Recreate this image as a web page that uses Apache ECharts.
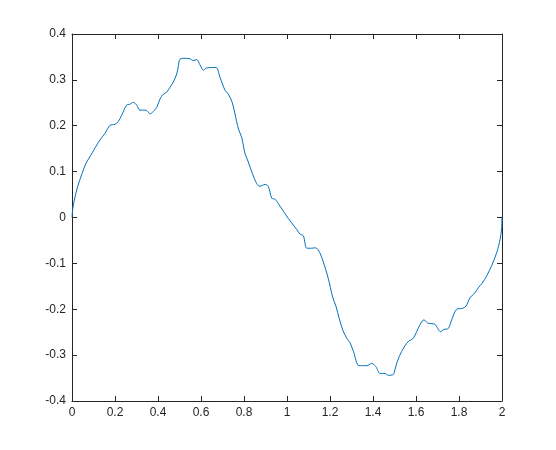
<!DOCTYPE html>
<html>
<head>
<meta charset="utf-8">
<script src="https://cdn.jsdelivr.net/npm/echarts@6/dist/echarts.min.js"></script>
<style>
  html, body { margin: 0; padding: 0; background: #fff; }
  #chart { width: 556px; height: 450px; }
</style>
</head>
<body>
<div id="chart"></div>
<script>
// curve points
const xs = [0, 0.004, 0.011, 0.026, 0.047, 0.065, 0.088, 0.104, 0.115, 0.13, 0.153, 0.177, 0.2, 0.215, 0.231, 0.254, 0.27, 0.285, 0.301, 0.316, 0.34, 0.35, 0.363, 0.378, 0.394, 0.409, 0.425, 0.44, 0.456, 0.471, 0.487, 0.495, 0.502, 0.526, 0.549, 0.564, 0.58, 0.595, 0.611, 0.626, 0.67, 0.688, 0.712, 0.727, 0.745, 0.758, 0.774, 0.789, 0.805, 0.82, 0.839, 0.859, 0.874, 0.898, 0.913, 0.929, 0.944, 0.967, 1.006, 1.045, 1.06, 1.076, 1.092, 1.115, 1.13, 1.146, 1.166, 1.192, 1.212, 1.228, 1.243, 1.259, 1.278, 1.293, 1.309, 1.335, 1.371, 1.394, 1.413, 1.433, 1.456, 1.471, 1.495, 1.502, 1.513, 1.533, 1.557, 1.572, 1.588, 1.603, 1.616, 1.637, 1.654, 1.688, 1.714, 1.73, 1.75, 1.766, 1.789, 1.817, 1.833, 1.851, 1.874, 1.89, 1.908, 1.929, 1.952, 1.975, 1.991, 1.998, 2];
const ys = [0, 0.021, 0.038, 0.067, 0.096, 0.118, 0.136, 0.149, 0.158, 0.169, 0.183, 0.201, 0.203, 0.209, 0.223, 0.245, 0.247, 0.251, 0.245, 0.234, 0.234, 0.232, 0.226, 0.231, 0.24, 0.258, 0.269, 0.273, 0.284, 0.295, 0.313, 0.331, 0.345, 0.347, 0.346, 0.342, 0.344, 0.333, 0.321, 0.326, 0.327, 0.306, 0.277, 0.269, 0.251, 0.226, 0.193, 0.175, 0.139, 0.121, 0.096, 0.074, 0.068, 0.072, 0.068, 0.042, 0.04, 0.025, -0.002, -0.026, -0.036, -0.04, -0.067, -0.067, -0.066, -0.071, -0.093, -0.133, -0.173, -0.194, -0.22, -0.245, -0.263, -0.273, -0.292, -0.323, -0.323, -0.318, -0.325, -0.34, -0.34, -0.344, -0.342, -0.332, -0.314, -0.292, -0.274, -0.268, -0.263, -0.249, -0.236, -0.223, -0.23, -0.233, -0.249, -0.244, -0.242, -0.223, -0.2, -0.198, -0.193, -0.175, -0.164, -0.153, -0.143, -0.127, -0.105, -0.077, -0.048, -0.025, 0];

const xTicks = [0, 0.2, 0.4, 0.6, 0.8, 1, 1.2, 1.4, 1.6, 1.8, 2];
const yTicks = [-0.4, -0.3, -0.2, -0.1, 0, 0.1, 0.2, 0.3, 0.4];

const axisColor = '#262626';
const fmt = v => String(parseFloat(v.toFixed(1)));

const chart = echarts.init(document.getElementById('chart'), null, {renderer: 'canvas'});

function boxAxis(pos, isX, show) {
  const ticks = isX ? xTicks : yTicks;
  return {
    type: 'value',
    position: pos,
    min: ticks[0],
    max: ticks[ticks.length - 1],
    interval: isX ? 0.2 : 0.1,
    axisLine: {show: true, onZero: false, lineStyle: {color: axisColor, width: 1}},
    axisTick: {show: true, inside: true, length: 5, lineStyle: {color: axisColor}},
    axisLabel: {
      show: show,
      color: axisColor,
      fontFamily: 'Liberation Sans, Arial, sans-serif',
      fontSize: 12,
      margin: isX ? 6 : 6,
      formatter: fmt
    },
    splitLine: {show: false}
  };
}

chart.setOption({
  animation: false,
  backgroundColor: '#fff',
  grid: {left: 72, right: 54, top: 34, bottom: 49, containLabel: false},
  xAxis: [boxAxis('bottom', true, true), boxAxis('top', true, false)],
  yAxis: [boxAxis('left', false, true), boxAxis('right', false, false)],
  series: [{
    type: 'line',
    data: xs.map((x, i) => [x, ys[i]]),
    showSymbol: false,
    smooth: 0.3,
    lineStyle: {color: '#0072BD', width: 1},
    itemStyle: {color: '#0072BD'}
  }]
});
</script>
</body>
</html>
